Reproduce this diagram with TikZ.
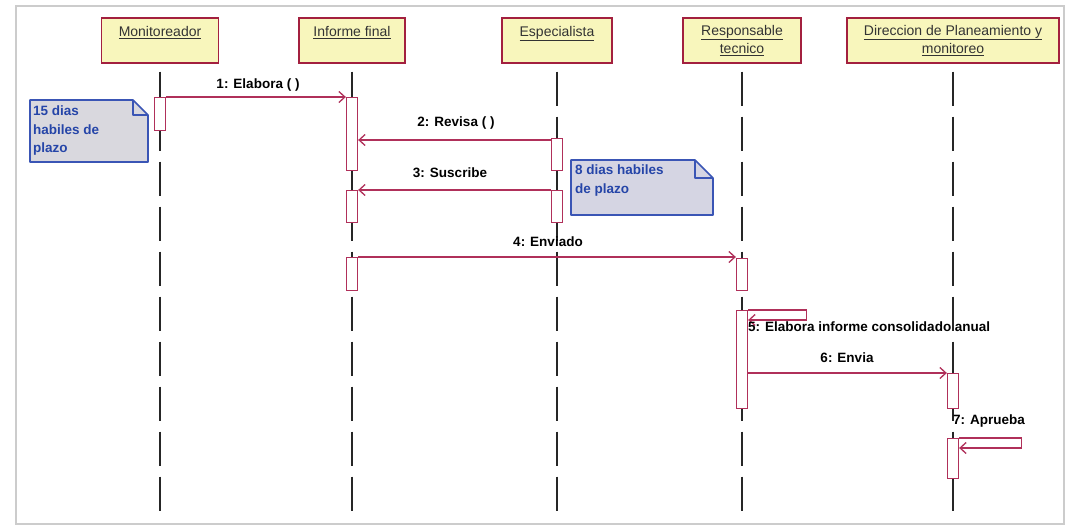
\documentclass[tikz,border=0pt]{standalone}
\usepackage{fontspec}
\setmainfont{Liberation Sans}
\usetikzlibrary{arrows.meta}
\pgfdeclarelayer{background}
\pgfdeclarelayer{canvas}
\pgfsetlayers{canvas,background,main}
\definecolor{hdrfill}{HTML}{F8F6BC}
\definecolor{hdrdraw}{HTML}{A3203F}
\definecolor{msgcol}{HTML}{B0305A}
\definecolor{notefillA}{HTML}{D9D8DE}
\definecolor{notefillB}{HTML}{D5D5E3}
\definecolor{notedraw}{HTML}{3A55B5}
\definecolor{notetext}{HTML}{2545A8}
\definecolor{headtext}{HTML}{333333}
\begin{document}
\begin{tikzpicture}[x=1pt,y=-1pt,
 head/.style={draw=hdrdraw, line width=1.6pt, fill=hdrfill, minimum height=45pt, anchor=north, align=center, font=\fontsize{14}{18}\selectfont, text=headtext, inner sep=2pt},
 life/.style={line width=1.5pt, black!85, dash pattern=on 34pt off 11pt},
 act/.style={draw=msgcol, line width=1.3pt, fill=white, minimum width=11pt, anchor=north, inner sep=0pt},
 msg/.style={draw=msgcol, line width=1.3pt, -{Straight Barb[length=6pt,width=11pt]}},
 lbl/.style={font=\fontsize{13.5}{15}\selectfont\bfseries, text=black, inner sep=1pt},
 notetxt/.style={text=notetext, font=\fontsize{13.5}{18.5}\selectfont\bfseries, align=left, anchor=north west, inner sep=0pt},
 noteshape/.style={draw=notedraw, line width=1.6pt, line join=round}
]
\useasboundingbox (0,0) rectangle (1071,531);
\begin{pgfonlayer}{canvas}
\fill[white] (0,0) rectangle (1071,531);
\draw[black!20, line width=2.5pt] (16,6) rectangle (1064,524);
\end{pgfonlayer}

% headers
\node[head, minimum width=117pt] (h1) at (160,17) {\underline{Monitoreador}\\\mbox{}};
\node[head, minimum width=106pt] (h2) at (352,17) {\underline{Informe final}\\\mbox{}};
\node[head, minimum width=110pt] (h3) at (557,17) {\underline{Especialista}\\\mbox{}};
\node[head, minimum width=118pt] (h4) at (742,17) {\underline{Responsable}\\\underline{tecnico}};
\node[head, minimum width=212pt] (h5) at (953,17) {\underline{Direccion de Planeamiento y}\\\underline{monitoreo}};

% lifelines
\coordinate (b1) at (160,512);
\coordinate (b2) at (352,512);
\coordinate (b3) at (557,512);
\coordinate (b4) at (742,512);
\coordinate (b5) at (953,512);
\draw[life] ([yshift=-8pt]h1.south) -- (b1);
\draw[life] ([yshift=-8pt]h2.south) -- (b2);
\draw[life] ([yshift=-8pt]h3.south) -- (b3);
\draw[life] ([yshift=-8pt]h4.south) -- (b4);
\draw[life] ([yshift=-8pt]h5.south) -- (b5);

% activations
\node[act, minimum height=33pt] (m1) at (160,97) {};
\node[act, minimum height=73pt] (i1) at (352,97) {};
\node[act, minimum height=32pt] (i2) at (352,190) {};
\node[act, minimum height=33pt] (i3) at (352,257) {};
\node[act, minimum height=32pt] (e1) at (557,138) {};
\node[act, minimum height=32pt] (e2) at (557,190) {};
\node[act, minimum height=32pt] (r1) at (742,258) {};
\node[act, minimum height=98pt] (r2) at (742,310) {};
\node[act, minimum height=35pt] (d1) at (953,373) {};
\node[act, minimum height=40pt] (d2) at (953,438) {};

% messages
\draw[msg] (m1.north east) -- (i1.west |- m1.north east);
\node[lbl] (l1) at (258,85) {1: Elabora ( )};
\coordinate (s2) at ([yshift=-2pt]e1.north west);
\draw[msg] (s2) -- (i1.east |- s2);
\node[lbl] (l2) at (456,123) {2: Revisa ( )};
\draw[msg] (e2.north west) -- (i2.north east);
\node[lbl] (l3) at (450,173) {3: Suscribe};
\draw[msg] (i3.north east) -- (r1.west |- i3.north east);
\node[lbl] (l4) at (548,242) {4: Enviado};
\coordinate (s5) at ([yshift=-10pt]r2.north east);
\draw[msg] (r2.north east) -- ++(58,0) |- (s5);
\node[lbl, anchor=west] (l5) at (747,327) {5: Elabora informe consolidado anual};
\draw[msg] (r2.east |- d1.north west) -- (d1.north west);
\node[lbl] (l6) at (847,358) {6: Envia};
\coordinate (s7) at ([yshift=-10pt]d2.north east);
\draw[msg] (d2.north east) -- ++(62,0) |- (s7);
\node[lbl, anchor=west] (l7) at (952,421) {7: Aprueba};

% notes
\node[notetxt] (n1) at (33,106) {15 dias\\habiles de\\plazo};
\node[notetxt] (n2) at (575,165) {8 dias habiles\\de plazo};
\begin{pgfonlayer}{background}
\draw[noteshape, fill=notefillA] (30,100) -- (133,100) -- (148,115) -- (148,162) -- (30,162) -- cycle;
\draw[noteshape] (133,100) -- (133,115) -- (148,115);
\draw[noteshape, fill=notefillB] (571,160) -- (695,160) -- (713,178) -- (713,215) -- (571,215) -- cycle;
\draw[noteshape] (695,160) -- (695,178) -- (713,178);
\end{pgfonlayer}
\end{tikzpicture}
\end{document}
